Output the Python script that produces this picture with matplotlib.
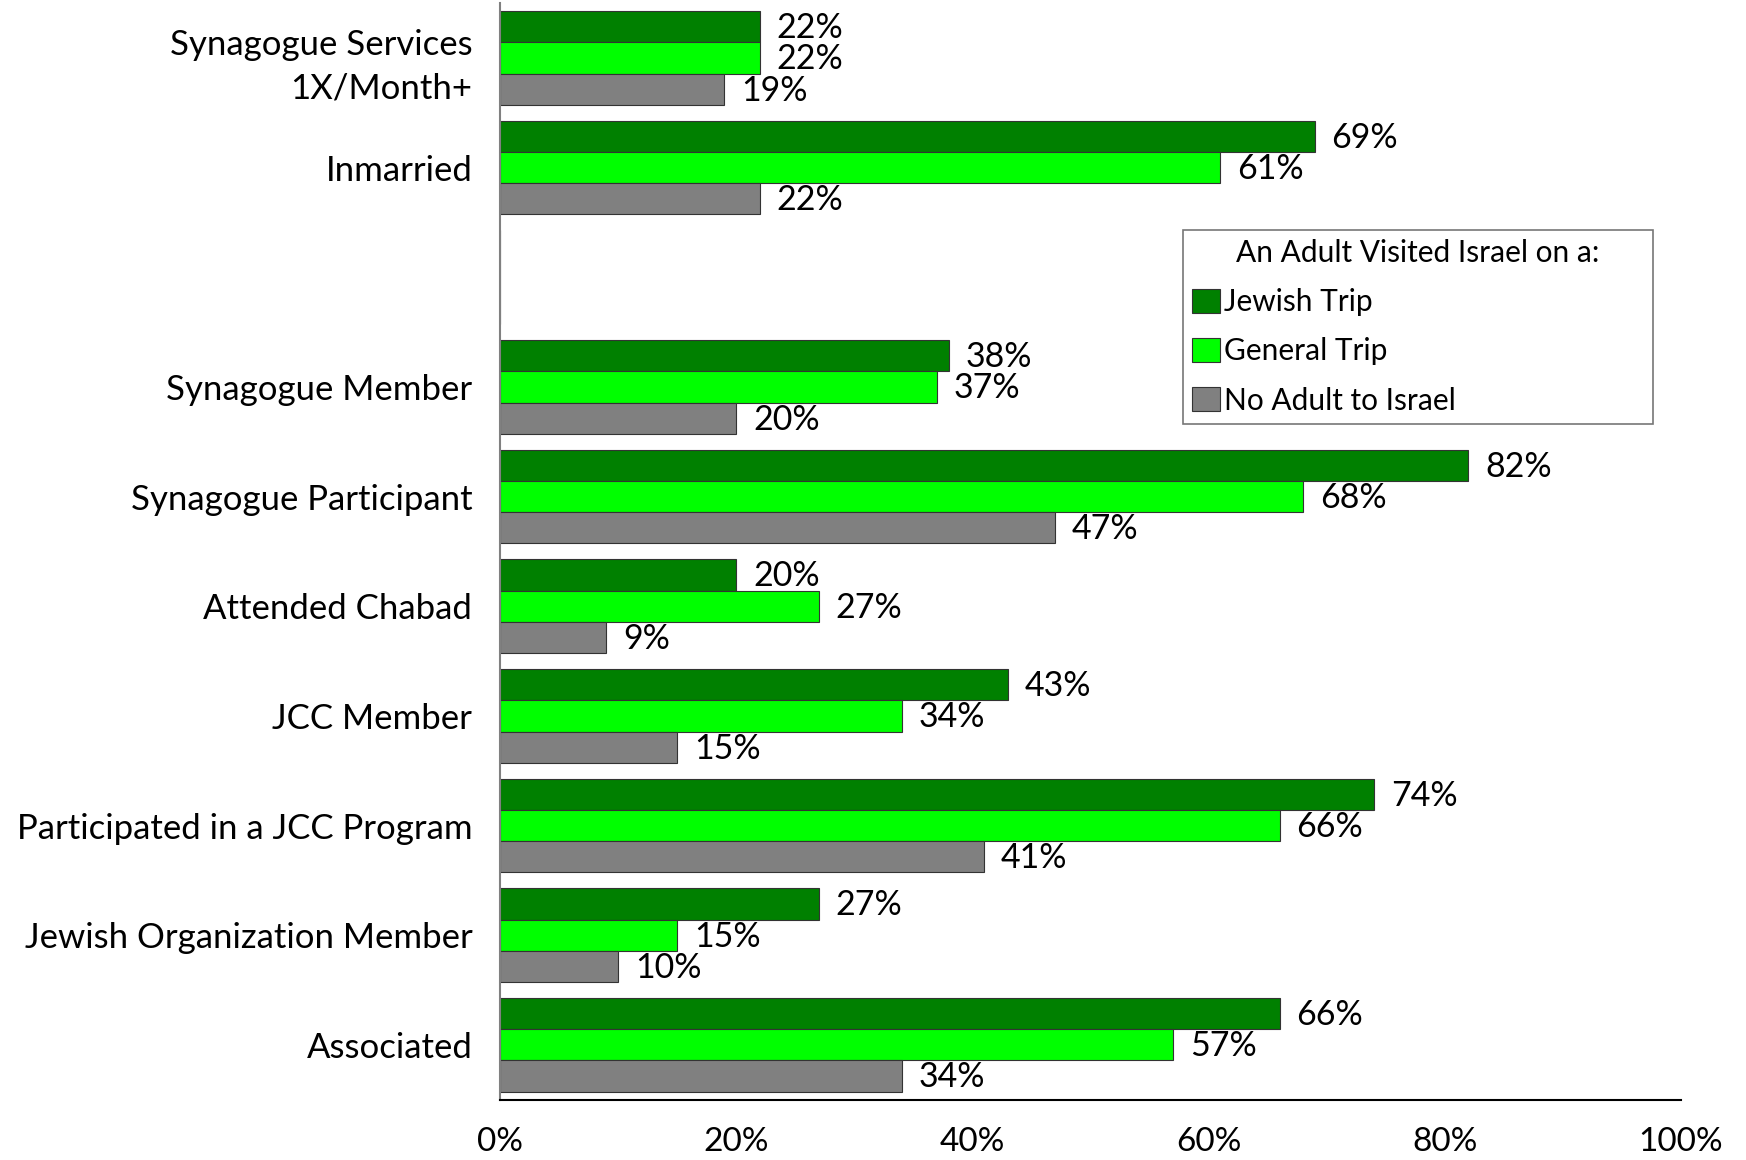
import matplotlib

matplotlib.use("Agg")
import matplotlib.pyplot as plt
import numpy as np

plt.rcParams["font.family"] = ["Lato", "DejaVu Sans"]

categories = ["Synagogue Services\n1X/Month+", "Inmarried", "",
              "Synagogue Member", "Synagogue Participant", "Attended Chabad",
              "JCC Member", "Participated in a JCC Program",
              "Jewish Organization Member", "Associated"]
jewish_trip = [22, 69, None, 38, 82, 20, 43, 74, 27, 66]
general_trip = [22, 61, None, 37, 68, 27, 34, 66, 15, 57]
no_adult = [19, 22, None, 20, 47, 9, 15, 41, 10, 34]

series = [("Jewish Trip", jewish_trip, "#008000"),
          ("General Trip", general_trip, "#00FF00"),
          ("No Adult to Israel", no_adult, "#808080")]

fig = plt.figure(figsize=(17.46, 11.6), dpi=100)
ax = fig.add_axes([0.2864, 0.052, 0.6764, 0.9453])

y = np.arange(len(categories))
bar_h = 0.285
for i, (name, vals, color) in enumerate(series):
    pos = y + (i - 1) * bar_h
    v = np.array([np.nan if x is None else x for x in vals], dtype=float)
    ax.barh(pos, np.nan_to_num(v), height=bar_h, color=color,
            edgecolor="#333333", linewidth=0.8, label=name)
    for p, x in zip(pos, v):
        if np.isnan(x):
            continue
        ax.annotate(f"{x:.0f}%", (x, p), xytext=(12, -1),
                    textcoords="offset points", va="center", ha="left",
                    fontsize=24.5)

ax.set_xlim(0, 100)
ax.set_ylim(len(categories) - 0.5, -0.5)
ax.set_yticks(y)
ax.set_yticklabels(categories, fontsize=25, linespacing=1.45)
ax.set_xticks(np.arange(0, 101, 20))
ax.set_xticklabels([f"{t}%" for t in range(0, 101, 20)], fontsize=24)
ax.tick_params(axis="both", length=0)
ax.tick_params(axis="x", pad=20)
ax.tick_params(axis="y", pad=20)
for s in ("top", "right"):
    ax.spines[s].set_visible(False)
ax.spines["left"].set_color("#808080")
ax.spines["left"].set_linewidth(1.5)
ax.spines["bottom"].set_linewidth(1.5)

leg = ax.legend(loc="upper left", bbox_to_anchor=(0.578, 0.793, 0.398, 0.0),
                mode="expand",
                title="An Adult Visited Israel on a:", fontsize=21.5,
                title_fontsize=21.5, frameon=True, fancybox=False,
                edgecolor="#555555", borderaxespad=0, handlelength=0.95,
                handleheight=0.85, handletextpad=0.15, labelspacing=0.71,
                borderpad=0.3)
leg.get_frame().set_linewidth(1.2)

fig.savefig("out.png", dpi=100)
